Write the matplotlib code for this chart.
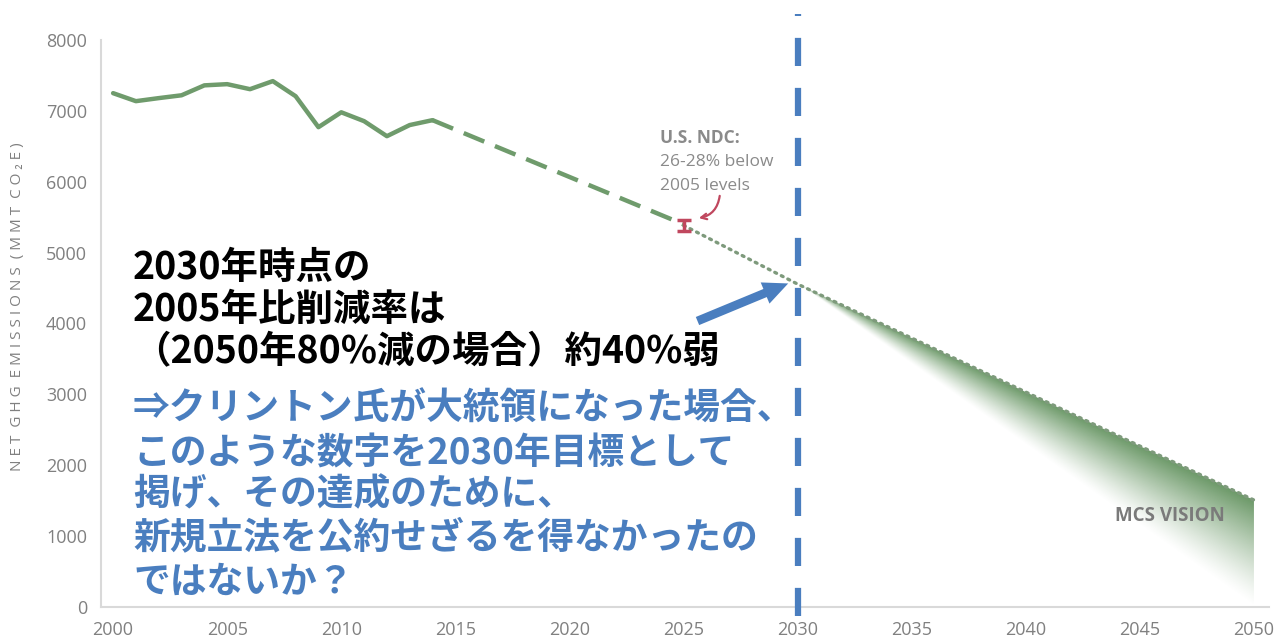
import numpy as np
import matplotlib
matplotlib.use("Agg")
import matplotlib.pyplot as plt
from matplotlib.patches import Polygon

# --- data ---
hist_years = [2000, 2001, 2002, 2003, 2004, 2005, 2006, 2007, 2008, 2009, 2010, 2011, 2012, 2013, 2014]
hist_vals = [7250, 7137, 7180, 7220, 7360, 7377, 7306, 7420, 7207, 6770, 6980, 6855, 6643, 6800, 6869]

proj_years = [2014, 2025]
proj_vals = [6869, 5400]

vision_years = [2025, 2030, 2050]
vision_vals = [5385, 4556, 1509]
vision_low = [4556, 0]          # lower edge of the fading band (2030, 2050)

ndc_year = 2025
ndc_low, ndc_high = 5311, 5459

x_ticks = list(range(2000, 2051, 5))
y_ticks = list(range(0, 8001, 1000))

W, H = 1284, 637
fig = plt.figure(figsize=(W / 100, H / 100), dpi=100)
ax = fig.add_axes([101 / W, 30 / H, (1269 - 101) / W, (607 - 40) / H])

green = "#6F9B6C"
gray = "#808080"
blue = "#4A7EBF"

ax.plot(hist_years, hist_vals, color=green, lw=3.2, solid_capstyle="round", zorder=4)
ax.plot(proj_years, proj_vals, color=green, lw=3.2, dashes=(5, 2.6), dash_capstyle="butt", zorder=4)

# fading band for the MCS vision
xs = np.linspace(2030, 2050, 400)
ys = np.linspace(0, 4600, 400)
X, Y = np.meshgrid(xs, ys)
top = np.interp(X, vision_years[1:], vision_vals[1:])
low = np.interp(X, vision_years[1:], vision_low)
frac = np.clip((top - Y) / np.maximum(top - low, 1e-6), 0, 1)
alpha = 0.95 * (1 - frac) ** 1.3
rgba = np.zeros(X.shape + (4,))
rgba[..., 0] = 0x62 / 255
rgba[..., 1] = 0x92 / 255
rgba[..., 2] = 0x5E / 255
rgba[..., 3] = alpha
im = ax.imshow(rgba, extent=[2030, 2050, 0, 4600], origin="lower", aspect="auto", zorder=2,
               interpolation="bilinear")
poly = Polygon([[2030, vision_vals[1]], [2050, vision_vals[2]], [2050, vision_low[1]]],
               closed=True, transform=ax.transData, facecolor="none", edgecolor="none")
ax.add_patch(poly)
im.set_clip_path(poly)

ax.plot(vision_years, vision_vals, color="#7E9A7C", lw=2.4, ls=(0, (0.6, 1.6)),
        dash_capstyle="round", zorder=5)

# NDC range
ax.errorbar([ndc_year], [(ndc_low + ndc_high) / 2], yerr=[(ndc_high - ndc_low) / 2],
            color="#C0475E", lw=2.5, capsize=5, capthick=2.5, zorder=6)

ax.set_xlim(1999.47, 2050.66)
ax.set_ylim(0, 8000)
ax.set_xticks(x_ticks)
ax.set_yticks(y_ticks)
ax.tick_params(length=0, labelsize=13, labelcolor=gray, pad=10)
for lab in ax.get_xticklabels() + ax.get_yticklabels():
    lab.set_family(["Open Sans", "DejaVu Sans"])
for s in ["top", "right"]:
    ax.spines[s].set_visible(False)
for s in ["left", "bottom"]:
    ax.spines[s].set_color("#D9D9D9")
    ax.spines[s].set_linewidth(1.5)

fig.text(18 / W, 1 - 307 / H, "N E T  G H G  E M I S S I O N S  ( M M T  C O ₂ E )",
         rotation=90, ha="center", va="center", fontsize=11, color=gray,
         family=["Open Sans", "DejaVu Sans"])

# 2030 marker
ax.axvline(2030, ymin=-0.015, ymax=1.045, color=blue, lw=4.5, dashes=(4.5, 3.5),
           clip_on=False, zorder=7)

# NDC note
for txt, yy, wt in [("U.S. NDC:", 138, "bold"), ("26-28% below", 162, "normal"),
                    ("2005 levels", 186, "normal")]:
    fig.text(660 / W, 1 - yy / H, txt, ha="left", va="center", fontsize=12.5,
             color="#8A8A8A", weight=wt, family=["Open Sans", "DejaVu Sans"])
ax.annotate("", xy=(2025.55, 5480), xytext=(2026.6, 5840),
            arrowprops=dict(arrowstyle="->", color="#C0475E", lw=1.6,
                            connectionstyle="arc3,rad=-0.4"), zorder=6)

fig.text(1170 / W, 1 - 516 / H, "MCS VISION", ha="center", va="center", fontsize=13.5,
         color="#7A7A7A", weight="bold", family=["Open Sans", "DejaVu Sans"])

# commentary
jp = ["Noto Sans CJK JP", "DejaVu Sans"]
black_lines = ["2030年時点の", "2005年比削減率は", "（2050年80%減の場合）約40%弱"]
for txt, yy in zip(black_lines, [267, 309, 352]):
    fig.text(133 / W, 1 - yy / H, txt, ha="left", va="center", fontsize=27,
             color="black", weight="bold", family=jp)

blue_lines = ["⇒クリントン氏が大統領になった場合、", "このような数字を2030年目標として",
              "掲げ、その達成のために、", "新規立法を公約せざるを得なかったの", "ではないか？"]
for txt, yy in zip(blue_lines, [409, 454, 495, 538, 582]):
    fig.text(133 / W, 1 - yy / H, txt, ha="left", va="center", fontsize=26.5,
             color=blue, weight="bold", family=jp)

ax.annotate("", xy=(2029.7, 4580), xytext=(2025.5, 4020),
            arrowprops=dict(arrowstyle="simple,head_width=1.1,head_length=1.2,tail_width=0.42",
                            mutation_scale=15, color=blue, lw=0), zorder=8)

fig.savefig("out.png", dpi=100)
